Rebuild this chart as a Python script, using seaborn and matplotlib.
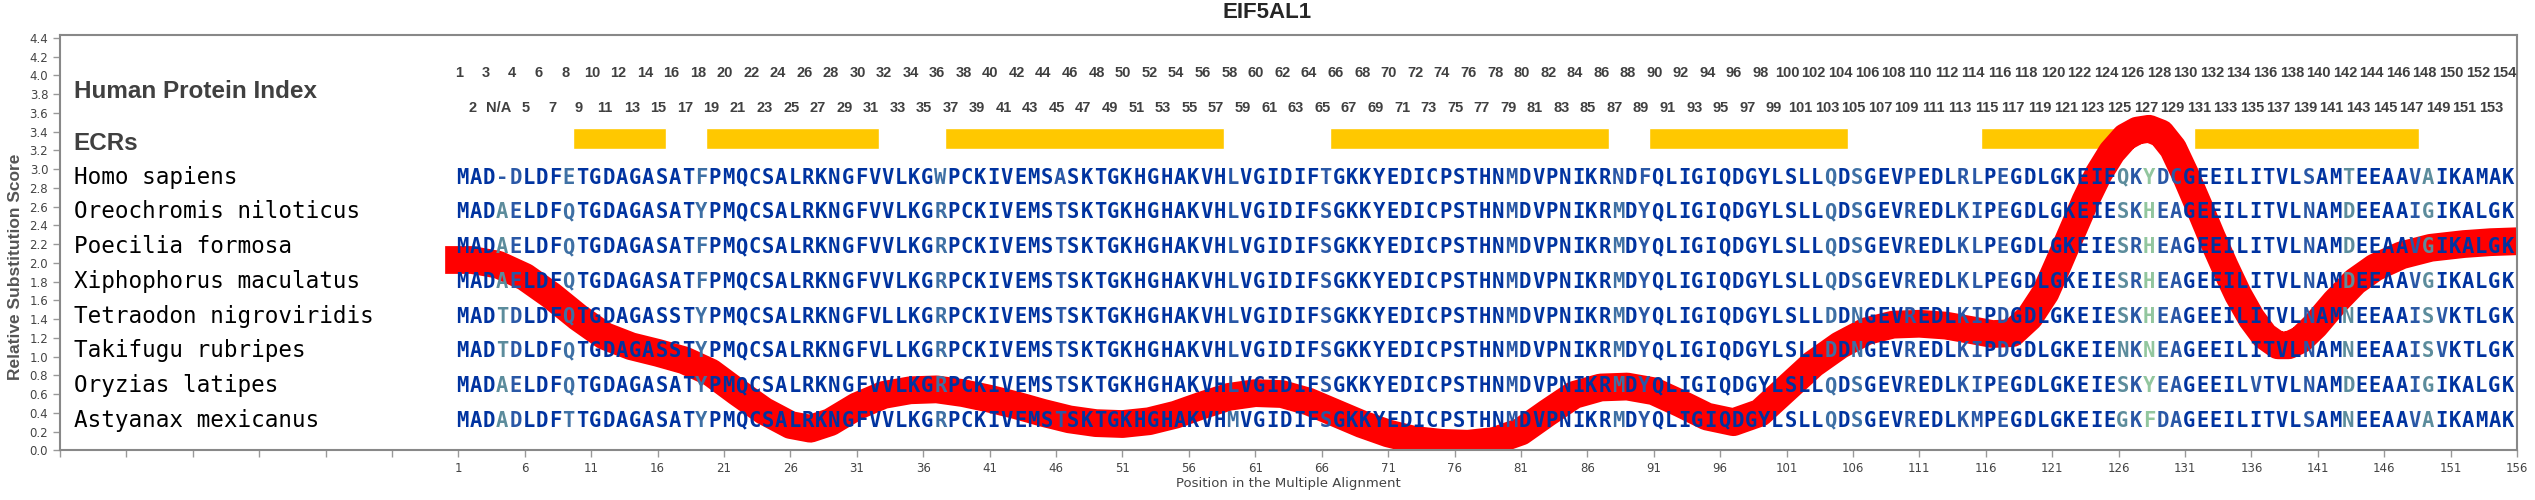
import numpy as np
import pandas as pd
import seaborn as sns
import matplotlib
matplotlib.use('Agg')
from matplotlib import pyplot as plt

# ---- data ----
species = ['Homo sapiens', 'Oreochromis niloticus', 'Poecilia formosa',
           'Xiphophorus maculatus', 'Tetraodon nigroviridis', 'Takifugu rubripes',
           'Oryzias latipes', 'Astyanax mexicanus']

sequences = [
  'MAD-DLDFETGDAGASATFPMQCSALRKNGFVVLKGWPCKIVEMSASKTGKHGHAKVHLVGIDIFTGKKYEDICPSTHNMDVPNIKRNDFQLIGIQDGYLSLLQDSGEVPEDLRLPEGDLGKEIEQKYDCGEEILITVLSAMTEEAAVAIKAMAK',
  'MADAELDFQTGDAGASATYPMQCSALRKNGFVVLKGRPCKIVEMSTSKTGKHGHAKVHLVGIDIFSGKKYEDICPSTHNMDVPNIKRMDYQLIGIQDGYLSLLQDSGEVREDLKIPEGDLGKEIESKHEAGEEILITVLNAMDEEAAIGIKALGK',
  'MADAELDFQTGDAGASATFPMQCSALRKNGFVVLKGRPCKIVEMSTSKTGKHGHAKVHLVGIDIFSGKKYEDICPSTHNMDVPNIKRMDYQLIGIQDGYLSLLQDSGEVREDLKLPEGDLGKEIESRHEAGEEILITVLNAMDEEAAVGIKALGK',
  'MADAELDFQTGDAGASATFPMQCSALRKNGFVVLKGRPCKIVEMSTSKTGKHGHAKVHLVGIDIFSGKKYEDICPSTHNMDVPNIKRMDYQLIGIQDGYLSLLQDSGEVREDLKLPEGDLGKEIESRHEAGEEILITVLNAMDEEAAVGIKALGK',
  'MADTDLDFQTGDAGASSTYPMQCSALRKNGFVLLKGRPCKIVEMSTSKTGKHGHAKVHLVGIDIFSGKKYEDICPSTHNMDVPNIKRMDYQLIGIQDGYLSLLDDNGEVREDLKIPDGDLGKEIESKHEAGEEILITVLNAMNEEAAISVKTLGK',
  'MADTDLDFQTGDAGASSTYPMQCSALRKNGFVLLKGRPCKIVEMSTSKTGKHGHAKVHLVGIDIFSGKKYEDICPSTHNMDVPNIKRMDYQLIGIQDGYLSLLDDNGEVREDLKIPDGDLGKEIENKNEAGEEILITVLNAMNEEAAISVKTLGK',
  'MADAELDFQTGDAGASATYPMQCSALRKNGFVVLKGRPCKIVEMSTSKTGKHGHAKVHLVGIDIFSGKKYEDICPSTHNMDVPNIKRMDYQLIGIQDGYLSLLQDSGEVREDLKIPEGDLGKEIESKYEAGEEILVTVLNAMDEEAAIGIKALGK',
  'MADADLDFTTGDAGASATYPMQCSALRKNGFVVLKGRPCKIVEMSTSKTGKHGHAKVHMVGIDIFSGKKYEDICPSTHNMDVPNIKRMDYQLIGIQDGYLSLLQDSGEVREDLKMPEGDLGKEIEGKFDAGEEILITVLSAMNEEAAVAIKAMAK',
]

human_index = ['1', '2', '3', 'N/A'] + [str(i) for i in range(4, 155)]

ecr_first = [10, 20, 38, 67, 91, 116, 132]
ecr_last = [16, 32, 58, 87, 105, 126, 148]

# shade of each alignment column (0 = conserved dark blue ... 4 = green)
column_shade = {4: 3, 5: 1, 9: 2, 19: 2, 37: 2, 46: 1, 59: 1, 66: 1, 80: 1,
                88: 2, 90: 1, 104: 2, 106: 2, 110: 1, 114: 1, 115: 1, 117: 1,
                126: 3, 127: 1, 128: 4, 129: 1, 130: 1, 140: 1, 143: 3,
                148: 1, 149: 3}
cell_shade = {(0, 4): 1, (0, 88): 1, (7, 59): 2, (6, 136): 1, (4, 150): 1, (5, 150): 1}
shade_colors = ['#0033a0', '#2a58a6', '#3e70a4', '#5c8c9c', '#92c69e']

curve_pos = [0, 2, 4, 6, 8, 10, 12, 14, 16, 18, 20, 22, 24, 26, 27.5, 29, 31, 33, 35,
             37, 39, 41, 43, 45, 47, 49, 51, 53, 55, 57, 59, 61, 63, 65, 67, 69, 71,
             73, 75, 77, 79, 81, 83, 85, 87, 89, 91, 93, 95, 97, 99, 101, 103, 105,
             107, 109, 111, 113, 115, 116.5, 118, 119.3, 120.5, 121.5, 122.5, 123.5,
             124.5, 125.5, 126.5, 127.4, 128.3, 129.2, 130.1, 131, 132, 133, 134,
             135, 136, 137, 138, 138.8, 139.7, 140.8, 142.3, 143.8, 145.3, 147.3,
             149.5, 152, 154, 156]
curve_score = [2.03, 2.03, 1.98, 1.85, 1.65, 1.42, 1.22, 1.11, 1.04, 0.96, 0.83, 0.62,
               0.42, 0.27, 0.23, 0.30, 0.47, 0.59, 0.64, 0.65, 0.61, 0.55, 0.48, 0.40,
               0.33, 0.29, 0.28, 0.31, 0.38, 0.48, 0.57, 0.61, 0.60, 0.52, 0.40, 0.28,
               0.18, 0.11, 0.08, 0.07, 0.10, 0.20, 0.40, 0.59, 0.67, 0.68, 0.63, 0.50,
               0.36, 0.30, 0.40, 0.66, 0.92, 1.12, 1.27, 1.34, 1.35, 1.33, 1.28, 1.24,
               1.25, 1.42, 1.68, 2.0, 2.33, 2.66, 2.95, 3.18, 3.34, 3.41, 3.43, 3.38,
               3.22, 2.95, 2.62, 2.28, 1.96, 1.66, 1.41, 1.22, 1.12, 1.12, 1.18, 1.33,
               1.58, 1.80, 1.95, 2.08, 2.16, 2.20, 2.22, 2.23]

row_base = [2.843 - 0.370 * i for i in range(len(species))]

# ---- drawing ----
sns.set_style('white')
fig = plt.figure(figsize=(25.35, 5), dpi=100)
ax = fig.add_axes([0.02367, 0.0994, 0.96923, 0.8306])

df = pd.DataFrame({'pos': curve_pos, 'score': curve_score})
sns.lineplot(data=df, x='pos', y='score', ax=ax, color='#ff0000', linewidth=20,
             solid_capstyle='butt', zorder=2)

ax.set_xlim(-29, 156)
ax.set_ylim(0, 4.43)
yt = np.round(np.arange(0, 4.41, 0.2), 1)
ax.set_yticks(yt)
ax.set_yticklabels(['%.1f' % v for v in yt])
xt = list(range(-29, 157, 5))
ax.set_xticks(xt)
ax.set_xticklabels([str(v) if v >= 1 else '' for v in xt])
ax.tick_params(axis='both', labelsize=8.5, labelcolor='#444444', color='#999999',
               length=5, width=1, direction='out', left=True, bottom=True)
for s in ax.spines.values():
  s.set_color('#888888')
  s.set_linewidth(1.5)
ax.set_xlabel('')
ax.set_ylabel('')

# human protein index numbers, alternating rows
for c, lab in enumerate(human_index, 1):
  yb = 3.978 if c % 2 == 1 else 3.604
  ax.text(c + 0.05, yb, lab, ha='center', va='baseline', color='#404040',
          family='Liberation Sans', weight='bold', size=10.5)

# ECR bars
ax.barh([3.3235] * len(ecr_first), [e - s + 1 for s, e in zip(ecr_first, ecr_last)],
        left=[s - 0.35 for s in ecr_first], height=0.221, color='#ffc800', zorder=1)

ax.text(-27.97, 3.754, 'Human Protein Index', ha='left', va='baseline',
        color='#404040', family='Liberation Sans', weight='bold', size=17.5)
ax.text(-27.97, 3.203, 'ECRs', ha='left', va='baseline',
        color='#404040', family='Liberation Sans', weight='bold', size=17.5)

for r, (name, seq) in enumerate(zip(species, sequences)):
  yb = row_base[r]
  ax.text(-27.97, yb, name, ha='left', va='baseline', color='black',
          family='DejaVu Sans Mono', size=16.3, zorder=3)
  for c, ch in enumerate(seq, 1):
    lvl = cell_shade.get((r, c), column_shade.get(c, 0))
    ax.text(c + 0.3, yb, ch, ha='center', va='baseline', color=shade_colors[lvl],
            family='DejaVu Sans Mono', weight='bold', size=14.8, zorder=3)

fig.text(0.5, 1 - 13 / 500, 'EIF5AL1', ha='center', va='center',
         weight='bold', size=16, family='Liberation Sans')
fig.text(0.5082, 1 - 484 / 500, 'Position in the Multiple Alignment', ha='center',
         va='center', size=9.5, color='#444444')
fig.text(0.0062, 0.466, 'Relative Substitution Score', ha='center', va='center',
         rotation=90, size=12.5, color='#555555', family='Liberation Sans', weight='bold')

fig.savefig('out.png', dpi=100)
